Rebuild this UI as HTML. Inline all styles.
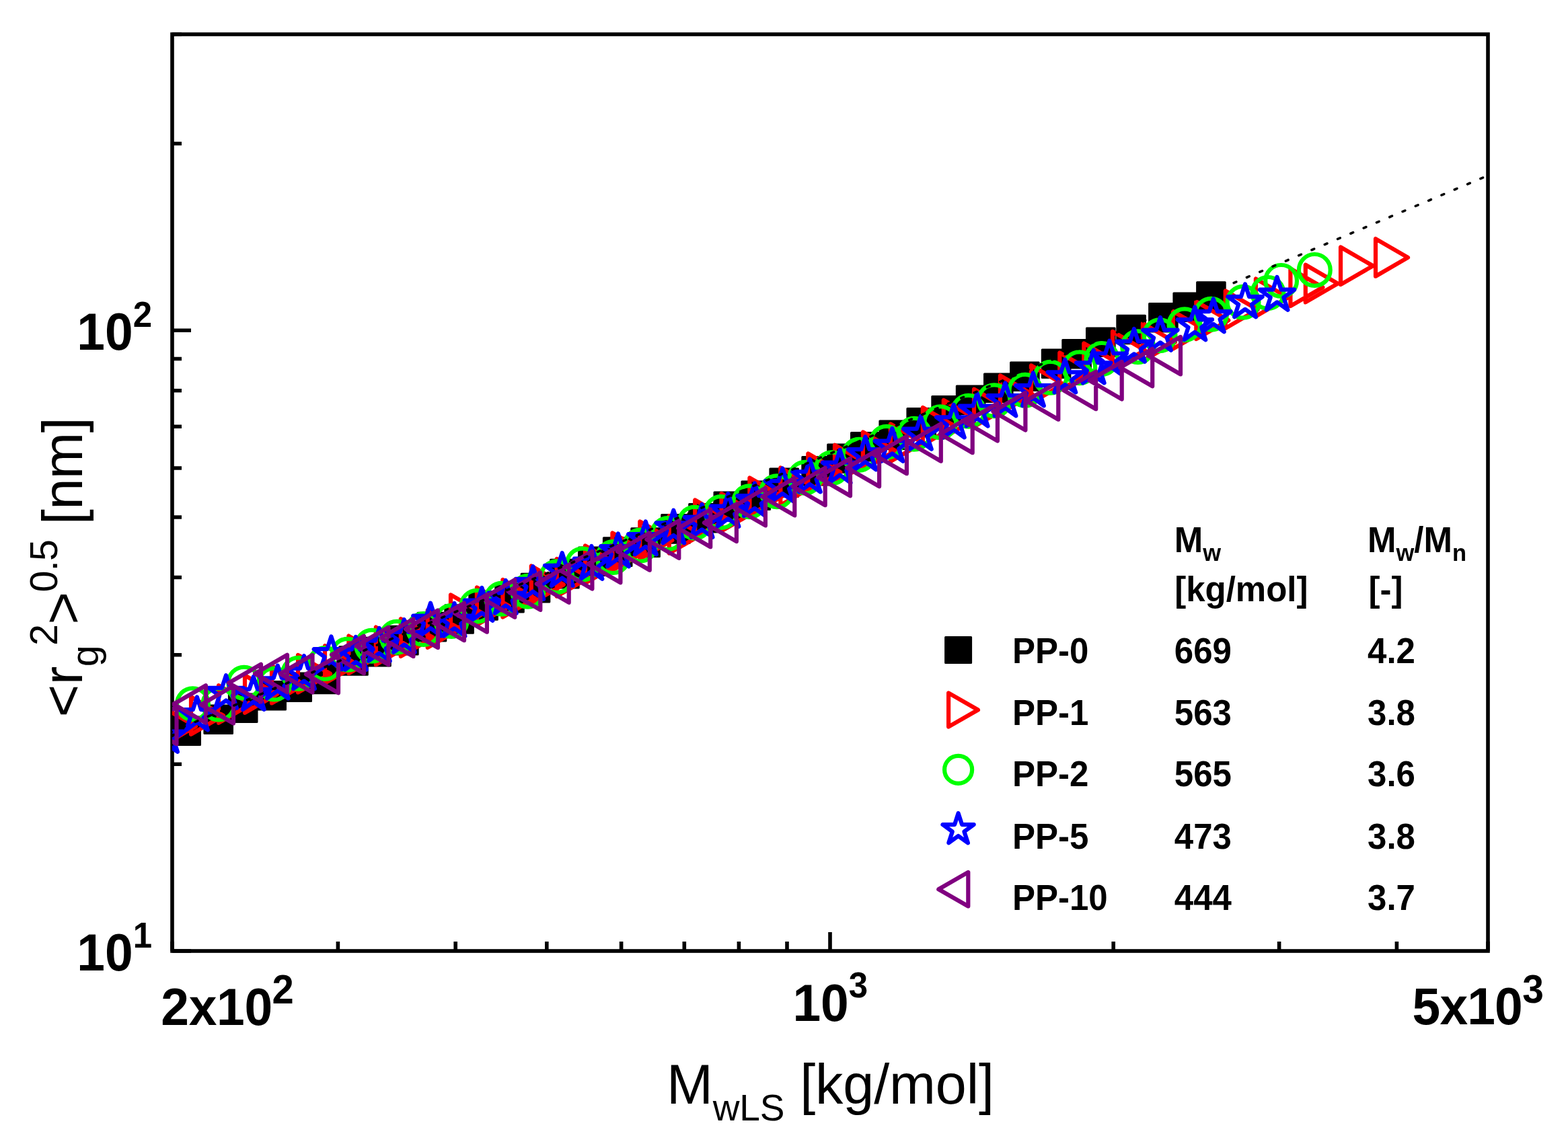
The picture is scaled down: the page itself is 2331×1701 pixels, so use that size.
<!DOCTYPE html>
<html lang="en"><head><meta charset="utf-8"><title>Radius of gyration vs molar mass</title>
<style>html,body{margin:0;padding:0;background:#fff}body{width:2331px;height:1701px}svg{display:block}text{font-family:"Liberation Sans",Arial,Helvetica,sans-serif;fill:#000;font-kerning:none;font-variant-ligatures:none;white-space:pre}.b{font-weight:bold}
.m{fill:none;stroke-width:6.2;stroke-linejoin:round;stroke-linecap:round}.r{stroke:#f00}.g{stroke:#0f0}.u{stroke:#00f}.p{stroke:#800080}.k{fill:#000;stroke:#000;stroke-width:3;stroke-linejoin:round}
</style></head><body>
<svg width="2331" height="1701" viewBox="0 0 2331 1701">
<defs><clipPath id="c"><rect x="256" y="51" width="1956" height="1363"/></clipPath></defs>
<rect x="0" y="0" width="2331" height="1701" fill="#fff"/>
<g stroke="#000" stroke-width="5.60" fill="none" stroke-linecap="butt" stroke-linejoin="miter">
<rect x="256.0" y="51.0" width="1956.0" height="1363.0"/>
<path d="M256 1414v-14M502.4 1414v-14M677.2 1414v-14M812.8 1414v-14M923.6 1414v-14M1017.3 1414v-14M1098.4 1414v-14M1170 1414v-14M1234 1414v-28M1655.2 1414v-14M1901.6 1414v-14M2076.4 1414v-14M2212 1414v-14M256 1414h28M256 1136.2h14M256 973.7h14M256 858.5h14M256 769h14M256 696h14M256 634.2h14M256 580.7h14M256 533.5h14M256 491.3h28M256 213.5h14M256 51h14"/>
</g>
<g clip-path="url(#c)">
<path class="k" d="M255.9 1065.9h41.6v41.6h-41.6zM303.9 1048.9h41.6v41.6h-41.6zM340.4 1031.9h41.6v41.6h-41.6zM382.9 1013.4h41.6v41.6h-41.6zM420.9 1001h41.6v41.6h-41.6zM462.3 989.2h41.6v41.6h-41.6zM504.7 961.7h41.6v41.6h-41.6zM538.7 948.3h41.6v41.6h-41.6zM579.6 931.3h41.6v41.6h-41.6zM621.2 911.3h41.6v41.6h-41.6zM661.8 899.7h41.6v41.6h-41.6zM697.8 879.7h41.6v41.6h-41.6zM736.7 868.3h41.6v41.6h-41.6zM775.2 853.3h41.6v41.6h-41.6zM818.6 832.3h41.6v41.6h-41.6zM860.5 813.9h41.6v41.6h-41.6zM897.4 799.8h41.6v41.6h-41.6zM938.8 785.8h41.6v41.6h-41.6zM983.7 765.6h41.6v41.6h-41.6zM1024.7 749.5h41.6v41.6h-41.6zM1062 731.9h41.6v41.6h-41.6zM1102.9 715.9h41.6v41.6h-41.6zM1144.9 696.9h41.6v41.6h-41.6zM1192.8 679.5h41.6v41.6h-41.6zM1230.7 661h41.6v41.6h-41.6zM1265.5 643.4h41.6v41.6h-41.6zM1307.9 625.9h41.6v41.6h-41.6zM1348.9 607.5h41.6v41.6h-41.6zM1385.8 589.5h41.6v41.6h-41.6zM1422.3 573.9h41.6v41.6h-41.6zM1463.5 555.9h41.6v41.6h-41.6zM1502.6 538.9h41.6v41.6h-41.6zM1549.3 520h41.6v41.6h-41.6zM1579.8 505.5h41.6v41.6h-41.6zM1615.5 487.9h41.6v41.6h-41.6zM1660.8 469.2h41.6v41.6h-41.6zM1708.6 451.4h41.6v41.6h-41.6zM1744.9 436h41.6v41.6h-41.6zM1779.6 419.8h41.6v41.6h-41.6z"/>
<path class="m r" d="M243 1052.2v55.6l48 -27.8zM284 1036.2v55.6l48 -27.8zM325 1019.2v55.6l48 -27.8zM364 1004.2v55.6l48 -27.8zM404 989.9v55.6l48 -27.8zM443 973.9v55.6l48 -27.8zM483 960.2v55.6l48 -27.8zM518.4 945.6v55.6l48 -27.8zM558.8 932.6v55.6l48 -27.8zM595.8 920.2v55.6l48 -27.8zM635.7 907.2v55.6l48 -27.8zM670 884.4v55.6l48 -27.8zM708.9 873.5v55.6l48 -27.8zM747.4 862v55.6l48 -27.8zM789.8 841.5v55.6l48 -27.8zM827.7 831v55.6l48 -27.8zM870 811.4v55.6l48 -27.8zM910.4 792.5v55.6l48 -27.8zM951.3 775.5v55.6l48 -27.8zM994.8 767v55.6l48 -27.8zM1033.2 743.5v55.6l48 -27.8zM1072.5 733.9v55.6l48 -27.8zM1114.4 710.5v55.6l48 -27.8zM1160.3 695.5v55.6l48 -27.8zM1201.3 674.5v55.6l48 -27.8zM1241 661.7v55.6l48 -27.8zM1282.9 642.5v55.6l48 -27.8zM1323.9 630.5v55.6l48 -27.8zM1371.8 606v55.6l48 -27.8zM1402.8 595v55.6l48 -27.8zM1448 578.7v55.6l48 -27.8zM1486.9 558.5v55.6l48 -27.8zM1532.9 543.5v55.6l48 -27.8zM1575.3 524.5v55.6l48 -27.8zM1611.3 510.5v55.6l48 -27.8zM1654 492.9v55.6l48 -27.8zM1698.9 480.9v55.6l48 -27.8zM1743.9 463v55.6l48 -27.8zM1778.3 448.5v55.6l48 -27.8zM1821.7 432.5v55.6l48 -27.8zM1866.9 414.6v55.6l48 -27.8zM1918.4 399.5v55.6l48 -27.8zM1940.8 393.8v55.6l48 -27.8zM1993 367.5v55.6l48 -27.8zM2045 355.1v55.6l48 -27.8z"/>
<g class="m g"><circle cx="286.5" cy="1046.7" r="23.4"/><circle cx="324.9" cy="1047.1" r="23.4"/><circle cx="362.8" cy="1015.2" r="23.4"/><circle cx="407.8" cy="1017.1" r="23.4"/><circle cx="443.7" cy="1001.2" r="23.4"/><circle cx="483" cy="986.6" r="23.4"/><circle cx="516.9" cy="973.2" r="23.4"/><circle cx="552.8" cy="960.2" r="23.4"/><circle cx="589.8" cy="947.2" r="23.4"/><circle cx="629.7" cy="935.6" r="23.4"/><circle cx="671" cy="923.6" r="23.4"/><circle cx="708.9" cy="901.2" r="23.4"/><circle cx="745.9" cy="890.2" r="23.4"/><circle cx="784.8" cy="879.2" r="23.4"/><circle cx="827.7" cy="857.7" r="23.4"/><circle cx="866" cy="839.1" r="23.4"/><circle cx="911.4" cy="828.6" r="23.4"/><circle cx="951.8" cy="811.1" r="23.4"/><circle cx="992.8" cy="793.6" r="23.4"/><circle cx="1032.7" cy="777.2" r="23.4"/><circle cx="1072" cy="761.6" r="23.4"/><circle cx="1113.9" cy="745.7" r="23.4"/><circle cx="1154.8" cy="730.7" r="23.4"/><circle cx="1196.8" cy="710.2" r="23.4"/><circle cx="1236.7" cy="695.7" r="23.4"/><circle cx="1277" cy="676.2" r="23.4"/><circle cx="1317.9" cy="657.2" r="23.4"/><circle cx="1358.8" cy="645.2" r="23.4"/><circle cx="1397.8" cy="627.7" r="23.4"/><circle cx="1439.7" cy="611.2" r="23.4"/><circle cx="1478" cy="595.7" r="23.4"/><circle cx="1523.9" cy="580.2" r="23.4"/><circle cx="1561.8" cy="561.2" r="23.4"/><circle cx="1604.8" cy="546.7" r="23.4"/><circle cx="1638" cy="533.4" r="23.4"/><circle cx="1691.6" cy="515.7" r="23.4"/><circle cx="1724.1" cy="498.7" r="23.4"/><circle cx="1761" cy="482.7" r="23.4"/><circle cx="1800.5" cy="467.2" r="23.4"/><circle cx="1848" cy="449.3" r="23.4"/><circle cx="1884.9" cy="435.4" r="23.4"/><circle cx="1904.6" cy="417.4" r="23.4"/><circle cx="1954.3" cy="401.4" r="23.4"/></g>
<path class="m u" d="M248 1069L254.1 1087.7L273.7 1087.7L257.8 1099.2L263.9 1117.8L248 1106.3L232.1 1117.8L238.2 1099.2L222.3 1087.7L241.9 1087.7zM292.9 1036.5L299 1055.2L318.6 1055.2L302.7 1066.7L308.8 1085.3L292.9 1073.8L277 1085.3L283.1 1066.7L267.2 1055.2L286.8 1055.2zM336 1004.1L342.1 1022.8L361.7 1022.8L345.8 1034.3L351.9 1052.9L336 1041.4L320.1 1052.9L326.2 1034.3L310.3 1022.8L329.9 1022.8zM376.8 1006.1L382.9 1024.8L402.5 1024.8L386.6 1036.3L392.7 1054.9L376.8 1043.4L360.9 1054.9L367 1036.3L351.1 1024.8L370.7 1024.8zM412.8 989.6L418.9 1008.3L438.5 1008.3L422.6 1019.8L428.7 1038.4L412.8 1026.9L396.9 1038.4L403 1019.8L387.1 1008.3L406.7 1008.3zM452 975.3L458.1 994L477.7 994L461.8 1005.5L467.9 1024.1L452 1012.6L436.1 1024.1L442.2 1005.5L426.3 994L445.9 994zM492.4 946.5L498.5 965.2L518.1 965.2L502.2 976.7L508.3 995.3L492.4 983.8L476.5 995.3L482.6 976.7L466.7 965.2L486.3 965.2zM528.9 947L535 965.7L554.6 965.7L538.7 977.2L544.8 995.8L528.9 984.3L513 995.8L519.1 977.2L503.2 965.7L522.8 965.7zM563.8 934L569.9 952.7L589.5 952.7L573.6 964.2L579.7 982.8L563.8 971.3L547.9 982.8L554 964.2L538.1 952.7L557.7 952.7zM600.8 921.1L606.9 939.8L626.5 939.8L610.6 951.3L616.7 969.9L600.8 958.4L584.9 969.9L591 951.3L575.1 939.8L594.7 939.8zM640 896.8L646.1 915.5L665.7 915.5L649.8 927L655.9 945.6L640 934.1L624.1 945.6L630.2 927L614.3 915.5L633.9 915.5zM675.5 897L681.6 915.7L701.2 915.7L685.3 927.2L691.4 945.8L675.5 934.3L659.6 945.8L665.7 927.2L649.8 915.7L669.4 915.7zM716.4 874L722.5 892.7L742.1 892.7L726.2 904.2L732.3 922.8L716.4 911.3L700.5 922.8L706.6 904.2L690.7 892.7L710.3 892.7zM751.8 863L757.9 881.7L777.5 881.7L761.6 893.2L767.7 911.8L751.8 900.3L735.9 911.8L742 893.2L726.1 881.7L745.7 881.7zM792.3 842.1L798.4 860.8L818 860.8L802.1 872.3L808.2 890.9L792.3 879.4L776.4 890.9L782.5 872.3L766.6 860.8L786.2 860.8zM835.7 822.1L841.8 840.8L861.4 840.8L845.5 852.3L851.6 870.9L835.7 859.4L819.8 870.9L825.9 852.3L810 840.8L829.6 840.8zM879.4 812L885.5 830.7L905.1 830.7L889.2 842.2L895.3 860.8L879.4 849.3L863.5 860.8L869.6 842.2L853.7 830.7L873.3 830.7zM918.9 793.5L925 812.2L944.6 812.2L928.7 823.7L934.8 842.3L918.9 830.8L903 842.3L909.1 823.7L893.2 812.2L912.8 812.2zM959.8 775.5L965.9 794.2L985.5 794.2L969.6 805.7L975.7 824.3L959.8 812.8L943.9 824.3L950 805.7L934.1 794.2L953.7 794.2zM1001.3 758.6L1007.4 777.3L1027 777.3L1011.1 788.8L1017.2 807.4L1001.3 795.9L985.4 807.4L991.5 788.8L975.6 777.3L995.2 777.3zM1043.5 750L1049.6 768.7L1069.2 768.7L1053.3 780.2L1059.4 798.8L1043.5 787.3L1027.6 798.8L1033.7 780.2L1017.8 768.7L1037.4 768.7zM1082.4 734L1088.5 752.7L1108.1 752.7L1092.2 764.2L1098.3 782.8L1082.4 771.3L1066.5 782.8L1072.6 764.2L1056.7 752.7L1076.3 752.7zM1121.9 718.5L1128 737.2L1147.6 737.2L1131.7 748.7L1137.8 767.3L1121.9 755.8L1106 767.3L1112.1 748.7L1096.2 737.2L1115.8 737.2zM1163.3 696.5L1169.4 715.2L1189 715.2L1173.1 726.7L1179.2 745.3L1163.3 733.8L1147.4 745.3L1153.5 726.7L1137.6 715.2L1157.2 715.2zM1203.8 682.6L1209.9 701.3L1229.5 701.3L1213.6 712.8L1219.7 731.4L1203.8 719.9L1187.9 731.4L1194 712.8L1178.1 701.3L1197.7 701.3zM1248.6 669L1254.7 687.7L1274.3 687.7L1258.4 699.2L1264.5 717.8L1248.6 706.3L1232.7 717.8L1238.8 699.2L1222.9 687.7L1242.5 687.7zM1286.4 649.5L1292.5 668.2L1312.1 668.2L1296.2 679.7L1302.3 698.3L1286.4 686.8L1270.5 698.3L1276.6 679.7L1260.7 668.2L1280.3 668.2zM1326.4 637L1332.5 655.7L1352.1 655.7L1336.2 667.2L1342.3 685.8L1326.4 674.3L1310.5 685.8L1316.6 667.2L1300.7 655.7L1320.3 655.7zM1368.8 619L1374.9 637.7L1394.5 637.7L1378.6 649.2L1384.7 667.8L1368.8 656.3L1352.9 667.8L1359 649.2L1343.1 637.7L1362.7 637.7zM1417.8 601.6L1423.9 620.3L1443.5 620.3L1427.6 631.8L1433.7 650.4L1417.8 638.9L1401.9 650.4L1408 631.8L1392.1 620.3L1411.7 620.3zM1452.6 584.8L1458.7 603.5L1478.3 603.5L1462.4 615L1468.5 633.6L1452.6 622.1L1436.7 633.6L1442.8 615L1426.9 603.5L1446.5 603.5zM1494.4 569.5L1500.5 588.2L1520.1 588.2L1504.2 599.7L1510.3 618.3L1494.4 606.8L1478.5 618.3L1484.6 599.7L1468.7 588.2L1488.3 588.2zM1535.9 554.5L1542 573.2L1561.6 573.2L1545.7 584.7L1551.8 603.3L1535.9 591.8L1520 603.3L1526.1 584.7L1510.2 573.2L1529.8 573.2zM1583.3 534.6L1589.4 553.3L1609 553.3L1593.1 564.8L1599.2 583.4L1583.3 571.9L1567.4 583.4L1573.5 564.8L1557.6 553.3L1577.2 553.3zM1625.7 520.6L1631.8 539.3L1651.4 539.3L1635.5 550.8L1641.6 569.4L1625.7 557.9L1609.8 569.4L1615.9 550.8L1600 539.3L1619.6 539.3zM1649.3 506.8L1655.4 525.5L1675 525.5L1659.1 537L1665.2 555.6L1649.3 544.1L1633.4 555.6L1639.5 537L1623.6 525.5L1643.2 525.5zM1685.9 489L1692 507.7L1711.6 507.7L1695.7 519.2L1701.8 537.8L1685.9 526.3L1670 537.8L1676.1 519.2L1660.2 507.7L1679.8 507.7zM1724.9 472L1731 490.7L1750.6 490.7L1734.7 502.2L1740.8 520.8L1724.9 509.3L1709 520.8L1715.1 502.2L1699.2 490.7L1718.8 490.7zM1776.3 456.5L1782.4 475.2L1802 475.2L1786.1 486.7L1792.2 505.3L1776.3 493.8L1760.4 505.3L1766.5 486.7L1750.6 475.2L1770.2 475.2zM1803.8 444.5L1809.9 463.2L1829.5 463.2L1813.6 474.7L1819.7 493.3L1803.8 481.8L1787.9 493.3L1794 474.7L1778.1 463.2L1797.7 463.2zM1851 422.5L1857.1 441.2L1876.7 441.2L1860.8 452.7L1866.9 471.3L1851 459.8L1835.1 471.3L1841.2 452.7L1825.3 441.2L1844.9 441.2zM1898.5 412L1904.6 430.7L1924.2 430.7L1908.3 442.2L1914.4 460.8L1898.5 449.3L1882.6 460.8L1888.7 442.2L1872.8 430.7L1892.4 430.7z"/>
<path class="m p" d="M262.5 1050.7v55.6l-48 -27.8zM306 1019.2v55.6l-48 -27.8zM347 1019.9v55.6l-48 -27.8zM388 987.7v55.6l-48 -27.8zM427 973.7v55.6l-48 -27.8zM464.5 973.9v55.6l-48 -27.8zM503 974.7v55.6l-48 -27.8zM541 945.7v55.6l-48 -27.8zM577.5 932.7v55.6l-48 -27.8zM614.5 920.4v55.6l-48 -27.8zM651 907.4v55.6l-48 -27.8zM690 896.6v55.6l-48 -27.8zM723.9 884.1v55.6l-48 -27.8zM765.3 862.1v55.6l-48 -27.8zM803.3 851.3v55.6l-48 -27.8zM845.7 840.3v55.6l-48 -27.8zM880.4 820v55.6l-48 -27.8zM922.4 810.7v55.6l-48 -27.8zM965.8 792.1v55.6l-48 -27.8zM1009.3 774.3v55.6l-48 -27.8zM1056.2 757.6v55.6l-48 -27.8zM1094.9 749.5v55.6l-48 -27.8zM1137.9 725.8v55.6l-48 -27.8zM1181.3 710.8v55.6l-48 -27.8zM1226.7 695.6v55.6l-48 -27.8zM1264 681.7v55.6l-48 -27.8zM1307.1 667.7v55.6l-48 -27.8zM1347.9 648.6v55.6l-48 -27.8zM1398.8 630.1v55.6l-48 -27.8zM1445.7 617.6v55.6l-48 -27.8zM1482.9 600v55.6l-48 -27.8zM1524.4 584v55.6l-48 -27.8zM1573.3 568.1v55.6l-48 -27.8zM1629.2 552.6v55.6l-48 -27.8zM1667.7 538v55.6l-48 -27.8zM1713.2 518.7v55.6l-48 -27.8zM1755 500.9v55.6l-48 -27.8z"/>
<path d="M200 1111.52L2230 253.34" stroke="#000" stroke-width="3.6" stroke-linecap="round" stroke-dasharray="4 16.954" stroke-dashoffset="-14.07" fill="none"/>
</g>
<text transform="translate(114.30,519.90) scale(1,1.045)" font-size="75" class="b" letter-spacing="0">10<tspan font-size="51" dx="0" dy="-32.63">2</tspan></text>
<text transform="translate(114.30,1442.90) scale(1,1.045)" font-size="75" class="b" letter-spacing="0">10<tspan font-size="51" dx="0" dy="-32.63">1</tspan></text>
<text transform="translate(239.30,1523.80) scale(1,1.045)" font-size="75" class="b" letter-spacing="-0.3">2x10<tspan font-size="58" dx="-0.4" dy="-30.43">2</tspan></text>
<text transform="translate(1178.40,1518.00) scale(1,1.045)" font-size="75" class="b" letter-spacing="0">10<tspan font-size="51" dx="0" dy="-33.11">3</tspan></text>
<text transform="translate(2099.60,1523.10) scale(1,1.045)" font-size="75" class="b" letter-spacing="-0.9">5x10<tspan font-size="57" dx="0.5" dy="-30.43">3</tspan></text>
<text x="991" y="1641.3" font-size="82.7" letter-spacing="-0.12">M<tspan font-size="55" dy="24.6">wLS</tspan><tspan dy="-24.6"> [kg/mol]</tspan></text>
<text transform="translate(122.1,1066.2) rotate(-90)" font-size="83.3" letter-spacing="-0.69">&lt;r<tspan font-size="57.5" dy="24">g</tspan><tspan font-size="57.5" dy="-61.1">2</tspan><tspan dy="37.1">&gt;</tspan><tspan font-size="57.5" dy="-37.1">0.5</tspan><tspan dy="37.1"> [nm]</tspan></text>
<path class="k" d="M1405.6 947.4h38v38h-38z"/>
<path class="m r" d="M1410.1 1030.4v50.2l43.8 -25.1z"/>
<circle class="m g" cx="1424.6" cy="1144.4" r="20.5"/>
<path class="m u" d="M1424.6 1209.3L1430.1 1226.1L1447.7 1226.1L1433.4 1236.5L1438.9 1253.3L1424.6 1242.9L1410.3 1253.3L1415.8 1236.5L1401.5 1226.1L1419.1 1226.1z"/>
<path class="m p" d="M1439.3 1296.9v50.6l-44 -25.3z"/>
<g class="b" font-size="51">
<text transform="translate(1505,985.9) scale(1,1.04)">PP-0</text>
<text transform="translate(1745.8,985.9) scale(1,1.04)">669</text>
<text transform="translate(2033.1,985.9) scale(1,1.04)">4.2</text>
<text transform="translate(1505,1077.9) scale(1,1.04)">PP-1</text>
<text transform="translate(1745.8,1077.9) scale(1,1.04)">563</text>
<text transform="translate(2033.1,1077.9) scale(1,1.04)">3.8</text>
<text transform="translate(1505,1168.8) scale(1,1.04)">PP-2</text>
<text transform="translate(1745.8,1168.8) scale(1,1.04)">565</text>
<text transform="translate(2033.1,1168.8) scale(1,1.04)">3.6</text>
<text transform="translate(1505,1261.8) scale(1,1.04)">PP-5</text>
<text transform="translate(1745.8,1261.8) scale(1,1.04)">473</text>
<text transform="translate(2033.1,1261.8) scale(1,1.04)">3.8</text>
<text transform="translate(1505,1353.3) scale(1,1.04)">PP-10</text>
<text transform="translate(1745.8,1353.3) scale(1,1.04)">444</text>
<text transform="translate(2033.1,1353.3) scale(1,1.04)">3.7</text>
<text transform="translate(1745.7,821.2) scale(1,1.04)">M<tspan font-size="34.5" dy="12.3">w</tspan></text>
<text transform="translate(1746.2,893.9) scale(1,1)">[kg/mol]</text>
<text transform="translate(2033,821.2) scale(1,1.04)">M<tspan font-size="34.5" dy="12.3">w</tspan><tspan dy="-12.3">/M</tspan><tspan font-size="34.5" dy="12.3">n</tspan></text>
<text transform="translate(2034.6,893.9) scale(1,1)">[-]</text>
</g>
</svg></body></html>
